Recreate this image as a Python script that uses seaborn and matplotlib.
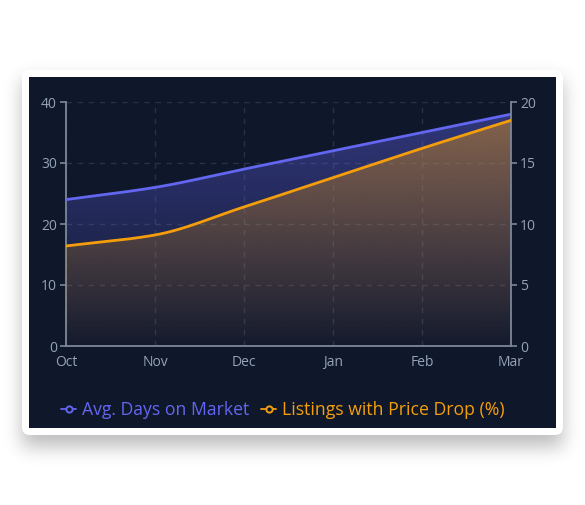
import math
import numpy as np
import pandas as pd
import matplotlib
matplotlib.use("Agg")
import matplotlib.pyplot as plt
import seaborn as sns
from matplotlib.patches import FancyBboxPatch, Rectangle
from matplotlib.lines import Line2D

# data
months = ["Oct", "Nov", "Dec", "Jan", "Feb", "Mar"]
days_on_market = [24, 26, 29, 32, 35, 38]
price_drop_pct = [8.2, 9.1, 11.4, 13.8, 16.2, 18.5]

BG = "#0f172a"
BLUE = "#6366f1"
ORANGE = "#f59e0b"
AXIS = "#7c8799"
TICK_TXT = "#94a3b8"
GRID = "#283145"

sns.set_theme(style="dark")
plt.rcParams["font.family"] = ["Open Sans", "DejaVu Sans"]


def smooth(ys, n=300):
    # monotone cubic (Fritsch-Carlson) so the line looks like the smoothed original
    ys = np.asarray(ys, float)
    d = np.diff(ys)
    m = np.zeros_like(ys)
    m[0], m[-1] = d[0], d[-1]
    for i in range(1, len(ys) - 1):
        m[i] = 0.0 if d[i - 1] * d[i] <= 0 else 2 / (1 / d[i - 1] + 1 / d[i])
    xx = np.linspace(0, len(ys) - 1, n)
    idx = np.clip(xx.astype(int), 0, len(ys) - 2)
    t = xx - idx
    h00 = 2 * t**3 - 3 * t**2 + 1
    h10 = t**3 - 2 * t**2 + t
    h01 = -2 * t**3 + 3 * t**2
    h11 = t**3 - t**2
    yy = h00 * ys[idx] + h10 * m[idx] + h01 * ys[idx + 1] + h11 * m[idx + 1]
    return xx, yy


def gradient_fill(ax, xx, yy, color, top_alpha, ymax):
    poly = ax.fill_between(xx, yy, 0, color="none", lw=0)
    rgb = matplotlib.colors.to_rgb(color)
    grad = np.zeros((256, 1, 4))
    grad[:, 0, :3] = rgb
    grad[:, 0, 3] = np.linspace(top_alpha, 0.02, 256)
    im = ax.imshow(grad, aspect="auto", extent=[0, len(months) - 1, 0, ymax],
                   origin="upper", zorder=1)
    im.set_clip_path(poly.get_paths()[0], transform=ax.transData)


W, H = 585, 505
fig = plt.figure(figsize=(W / 100, H / 100), dpi=100)
fig.patch.set_facecolor("white")

# soft card shadow (blurred rectangle), card and dark panel
bgax = fig.add_axes([0, 0, 1, 1], zorder=0)
bgax.set_axis_off()
erf = np.vectorize(math.erf)
px = np.arange(W) + 0.5
py = np.arange(H) + 0.5
s = 13.0
fx = 0.5 * (erf((px - 22) / s) - erf((px - 563) / s))
fy = 0.5 * (erf((py - 80) / s) - erf((py - 447) / s))
shadow = np.zeros((H, W, 4))
shadow[..., 3] = 0.26 * np.outer(fy, fx)
bgax.imshow(shadow, extent=[0, W, H, 0], aspect="auto")
bgax.set_xlim(0, W)
bgax.set_ylim(H, 0)
bgax.add_patch(FancyBboxPatch((22, 70), 541, 365, boxstyle="round,pad=0,rounding_size=8",
                              facecolor="white", edgecolor="none"))
bgax.add_patch(Rectangle((29, 77), 527, 351, facecolor=BG, edgecolor="none"))

ax = fig.add_axes([66 / W, (505 - 346) / H, 445 / W, 244 / H], zorder=2)
ax.set_facecolor("none")
ax2 = ax.twinx()
ax2.set_zorder(3)
ax2.set_facecolor("none")

df = pd.DataFrame({"month": months, "days": days_on_market, "drop": price_drop_pct})

xb, yb = smooth(df["days"])
xo, yo = smooth(df["drop"])

gradient_fill(ax, xb, yb, BLUE, 0.42, 40)
sns.lineplot(x=xb, y=yb, ax=ax, color=BLUE, lw=2, zorder=3)

gradient_fill(ax2, xo, yo, ORANGE, 0.45, 20)
sns.lineplot(x=xo, y=yo, ax=ax2, color=ORANGE, lw=2, zorder=3)

ax.set_xlim(0, len(months) - 1)
ax.set_ylim(0, 40)
ax2.set_ylim(0, 20)
ax.set_yticks([0, 10, 20, 30, 40])
ax2.set_yticks([0, 5, 10, 15, 20])
ax.set_xticks(range(len(months)))
ax.set_xticklabels(months)

ax.grid(True, color=GRID, ls=(0, (4, 4)), lw=1)
ax2.grid(False)
ax.set_axisbelow(True)

for a in (ax, ax2):
    for sp in a.spines.values():
        sp.set_visible(False)
    a.tick_params(colors=AXIS, labelcolor=TICK_TXT, labelsize=10, length=4.5, width=1.2)
    a.set_xlabel("")
    a.set_ylabel("")
ax.spines["left"].set_visible(True)
ax.spines["bottom"].set_visible(True)
ax2.spines["right"].set_visible(True)
for sp in (ax.spines["left"], ax.spines["bottom"], ax2.spines["right"]):
    sp.set_color(AXIS)
    sp.set_linewidth(1.3)
ax.tick_params(axis="x", length=3.6, pad=10.6)
for lbl in ax.get_xticklabels():
    lbl.set_va("baseline")
ax.tick_params(axis="y", pad=2)
ax2.tick_params(axis="y", pad=2)

handles = [
    Line2D([], [], color=BLUE, lw=1.3, marker="o", ms=4.5, mfc=BG, mew=1.4),
    Line2D([], [], color=ORANGE, lw=1.3, marker="o", ms=4.5, mfc=BG, mew=1.4),
]
leg = fig.legend(handles, ["Avg. Days on Market", "Listings with Price Drop (%)"],
                 loc="center", bbox_to_anchor=(283 / W, (505 - 410) / H), ncol=2,
                 frameon=False, fontsize=12.7, handlelength=0.85, handletextpad=0.34,
                 columnspacing=0.68)
for txt, c in zip(leg.get_texts(), [BLUE, ORANGE]):
    txt.set_color(c)

fig.savefig("out.png", dpi=100, facecolor="white")
